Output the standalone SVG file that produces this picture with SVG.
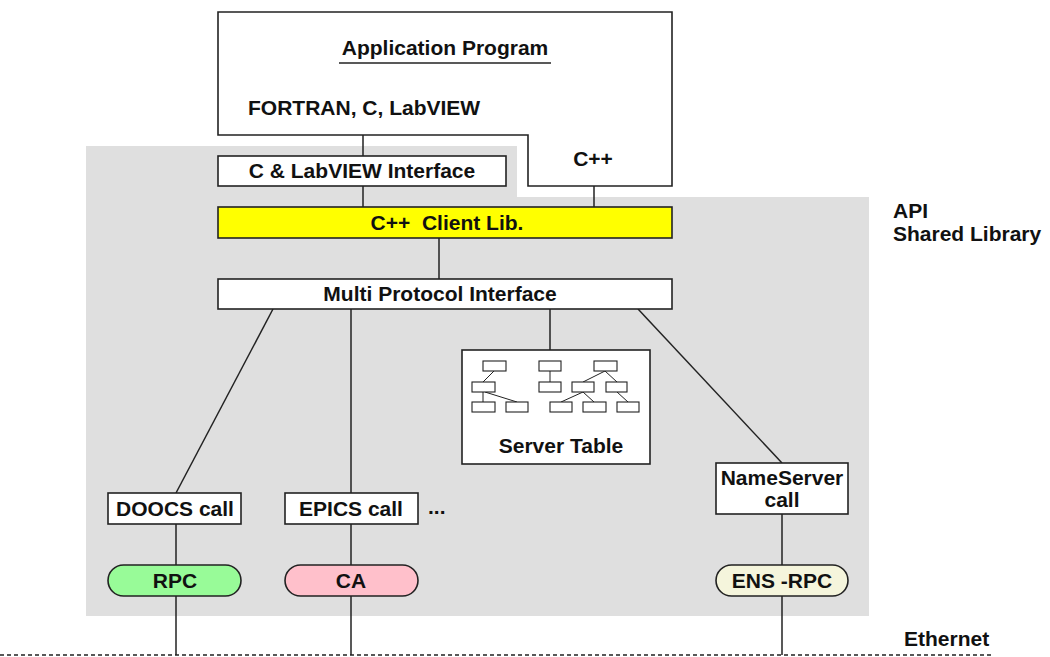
<svg xmlns="http://www.w3.org/2000/svg" width="1050" height="657" viewBox="0 0 1050 657">
<style>
text{font-family:"Liberation Sans",Arial,sans-serif;font-weight:bold;font-size:21px;fill:#111}
.c{text-anchor:middle}
.box{fill:#fff;stroke:#222;stroke-width:1.6}
.sm{fill:#fff;stroke:#222;stroke-width:1.1}
.ln{stroke:#222;stroke-width:1.5;fill:none}
.sl{stroke:#222;stroke-width:1;fill:none}
</style>
<rect width="1050" height="657" fill="#fff"/>
<polygon id="api-area" points="86,146 517,146 517,197 869,197 869,616 86,616" fill="#dfdfdf"/>
<g id="connectors">
<line class="ln" x1="363" y1="135" x2="363" y2="156"/>
<line class="ln" x1="363" y1="186" x2="363" y2="207"/>
<line class="ln" x1="594" y1="186" x2="594" y2="207"/>
<line class="ln" x1="439" y1="238" x2="439" y2="279"/>
<line class="ln" x1="273" y1="309" x2="176" y2="493"/>
<line class="ln" x1="351" y1="309" x2="351" y2="493"/>
<line class="ln" x1="550" y1="309" x2="550" y2="350"/>
<line class="ln" x1="638" y1="309" x2="782" y2="463"/>
<line class="ln" x1="176" y1="524" x2="176" y2="565"/>
<line class="ln" x1="351" y1="524" x2="351" y2="565"/>
<line class="ln" x1="782" y1="514" x2="782" y2="565"/>
<line class="ln" x1="176" y1="596" x2="176" y2="655"/>
<line class="ln" x1="351" y1="596" x2="351" y2="655"/>
<line class="ln" x1="782" y1="596" x2="782" y2="655"/>
<line class="ln" x1="0" y1="655" x2="992" y2="655" stroke-dasharray="4 3"/>
</g>
<g id="app">
<path class="box" d="M218,12 H672 V186 H528 V135 H218 Z"/>
<text class="c" x="445" y="55">Application Program</text>
<line class="ln" x1="339" y1="63" x2="551" y2="63"/>
<text x="248" y="115">FORTRAN, C, LabVIEW</text>
<text class="c" x="593" y="166">C++</text>
</g>
<g id="clabview">
<rect class="box" x="218" y="156" width="288" height="30"/>
<text class="c" x="362" y="178">C &amp; LabVIEW Interface</text>
</g>
<g id="clientlib">
<rect class="box" x="218" y="207" width="454" height="31" fill="#ffff00" style="fill:#ffff00"/>
<text class="c" x="447" y="230" xml:space="preserve">C++  Client Lib.</text>
</g>
<g id="mpi">
<rect class="box" x="218" y="279" width="454" height="30"/>
<text class="c" x="440" y="301">Multi Protocol Interface</text>
</g>
<g id="servertable">
<rect class="box" x="462" y="350" width="188" height="114"/>
<g class="sl">
<line x1="494" y1="371" x2="483" y2="382"/>
<line x1="483" y1="392" x2="483" y2="402"/>
<line x1="485" y1="392" x2="517" y2="402"/>
<line x1="550" y1="371" x2="550" y2="382"/>
<line x1="605" y1="371" x2="583" y2="382"/>
<line x1="605" y1="371" x2="617" y2="382"/>
<line x1="583" y1="392" x2="561" y2="402"/>
<line x1="583" y1="392" x2="594" y2="402"/>
<line x1="617" y1="392" x2="628" y2="402"/>
</g>
<rect class="sm" x="483" y="361" width="23" height="10"/>
<rect class="sm" x="472" y="382" width="23" height="10"/>
<rect class="sm" x="472" y="402" width="23" height="10"/>
<rect class="sm" x="506" y="402" width="22" height="10"/>
<rect class="sm" x="539" y="361" width="22" height="10"/>
<rect class="sm" x="539" y="382" width="22" height="10"/>
<rect class="sm" x="594" y="361" width="23" height="10"/>
<rect class="sm" x="572" y="382" width="22" height="10"/>
<rect class="sm" x="606" y="382" width="21" height="10"/>
<rect class="sm" x="550" y="402" width="22" height="10"/>
<rect class="sm" x="583" y="402" width="23" height="10"/>
<rect class="sm" x="617" y="402" width="22" height="10"/>
<text class="c" x="561" y="453">Server Table</text>
</g>
<g id="doocs">
<rect class="box" x="108" y="493" width="133" height="31"/>
<text class="c" x="175" y="516">DOOCS call</text>
</g>
<g id="epics">
<rect class="box" x="285" y="493" width="133" height="31"/>
<text class="c" x="351" y="516">EPICS call</text>
</g>
<g id="dots"><text x="428" y="514">...</text></g>
<g id="nameserver">
<rect class="box" x="716" y="463" width="132" height="51"/>
<text class="c" x="782" y="485">NameServer</text>
<text class="c" x="782" y="507">call</text>
</g>
<g id="rpc">
<rect class="box" x="108" y="565" width="133" height="31" rx="15.5" style="fill:#98fb98"/>
<text class="c" x="175" y="588">RPC</text>
</g>
<g id="ca">
<rect class="box" x="285" y="565" width="133" height="31" rx="15.5" style="fill:#ffc0cb"/>
<text class="c" x="351" y="588">CA</text>
</g>
<g id="ensrpc">
<rect class="box" x="716" y="565" width="132" height="31" rx="15.5" style="fill:#f5f5dc"/>
<text class="c" x="782" y="588">ENS -RPC</text>
</g>
<g id="labels">
<text x="893" y="218">API</text>
<text x="893" y="241">Shared Library</text>
<text x="904" y="646">Ethernet</text>
</g>
</svg>
